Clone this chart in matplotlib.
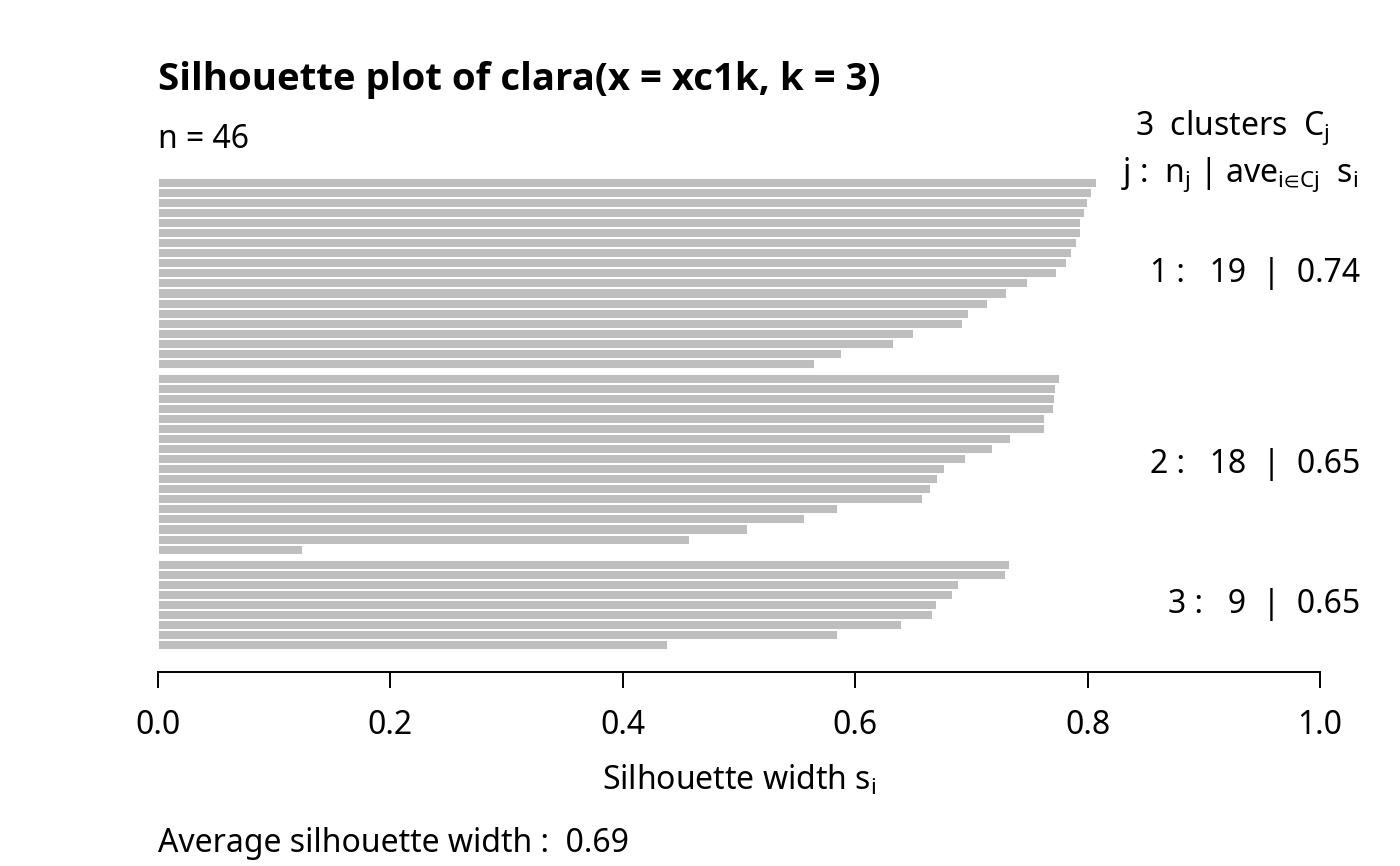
import matplotlib
matplotlib.use('Agg')
import matplotlib.pyplot as plt
import matplotlib.transforms as mtransforms

# silhouette widths per cluster, largest first
sil_c1 = [0.808, 0.804, 0.800, 0.798, 0.794, 0.794, 0.791, 0.787, 0.782, 0.774,
          0.749, 0.731, 0.714, 0.698, 0.693, 0.651, 0.633, 0.589, 0.565]
sil_c2 = [0.776, 0.773, 0.772, 0.771, 0.763, 0.763, 0.734, 0.719, 0.695, 0.677,
          0.671, 0.665, 0.658, 0.585, 0.557, 0.508, 0.458, 0.125]
sil_c3 = [0.733, 0.730, 0.689, 0.684, 0.670, 0.667, 0.640, 0.585, 0.439]
cluster_labels = ['1 :   19  |  0.74', '2 :   18  |  0.65', '3 :   9  |  0.65']
xticks = [0.0, 0.2, 0.4, 0.6, 0.8, 1.0]

if __name__ == '__main__':
    plt.rcParams['font.family'] = ['Noto Sans', 'DejaVu Sans']
    plt.rcParams['mathtext.fontset'] = 'custom'
    plt.rcParams['mathtext.rm'] = 'Noto Sans'
    plt.rcParams['mathtext.it'] = 'Noto Sans'
    plt.rcParams['mathtext.bf'] = 'Noto Sans:bold'
    fs = 23

    fig = plt.figure(figsize=(14, 8.66), dpi=100)
    H = 866.0
    ax = fig.add_axes([158 / 1400, (H - 672) / H, 1162 / 1400, (672 - 178) / H])

    # bottom cluster first, each cluster ascending from bottom
    y = 0.0
    centers = []
    for k, vals in enumerate([sil_c3, sil_c2, sil_c1]):
        if k > 0:
            y += 0.5
        start = y
        for v in reversed(vals):
            ax.barh(y, v, height=1, align='edge', color='#BEBEBE',
                    edgecolor='white', linewidth=1.4)
            y += 1
        centers.append((start + y) / 2)

    ax.set_xlim(0, 1)
    ax.set_ylim(-2.19, y)
    for s in ['top', 'right', 'left']:
        ax.spines[s].set_visible(False)
    ax.spines['bottom'].set_linewidth(1.4)
    ax.set_yticks([])
    ax.set_xticks(xticks)
    ax.set_xticklabels(['%.1f' % t for t in xticks], fontsize=fs)
    ax.tick_params(axis='x', length=11.5, width=1.4, pad=15)

    # cluster summary text in right margin
    trans = mtransforms.blended_transform_factory(fig.transFigure, ax.transData)
    for lab, c in zip(cluster_labels, reversed(centers)):
        ax.text(1360 / 1400, c, lab, transform=trans, ha='right', va='center',
                fontsize=fs, clip_on=False)

    fig.text(158 / 1400, 1 - 80 / H, 'Silhouette plot of clara(x = xc1k, k = 3)',
             fontsize=27.6, fontweight='bold', family=['Open Sans', 'DejaVu Sans'],
             ha='left', va='center')
    fig.text(158 / 1400, 1 - 139 / H, 'n = 46', fontsize=fs, ha='left', va='center')
    fig.text(1330 / 1400, 1 - 128 / H, r'3  clusters  C$_\mathrm{j}$',
             fontsize=fs, ha='right', va='center')
    fig.text(1358 / 1400, 1 - 175 / H,
             'j :  n$_\\mathrm{j}$ | ave$_\\mathrm{i\u2208Cj}$  s$_\\mathrm{i}$',
             fontsize=fs, ha='right', va='center')
    fig.text(739 / 1400, 1 - 780 / H, r'Silhouette width s$_\mathrm{i}$',
             fontsize=fs, ha='center', va='center')
    fig.text(158 / 1400, 1 - 843 / H, 'Average silhouette width :  0.69',
             fontsize=fs, ha='left', va='center')

    fig.savefig('out.png', dpi=100)
